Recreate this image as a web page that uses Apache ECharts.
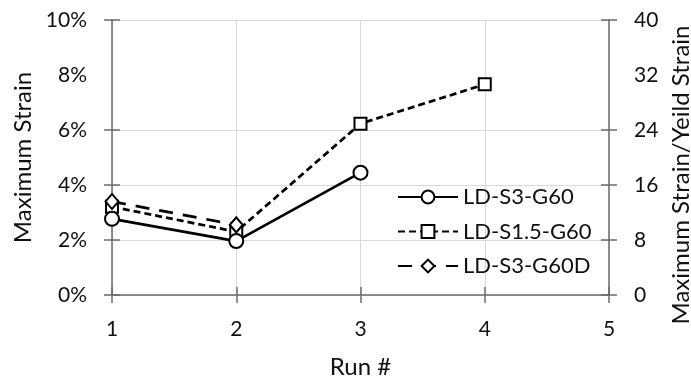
<!DOCTYPE html>
<html>
<head>
<meta charset="utf-8">
<script src="https://cdn.jsdelivr.net/npm/echarts@6/dist/echarts.min.js"></script>
<style>html,body{margin:0;padding:0;background:#fff;}#c{width:691px;height:379px;}</style>
</head>
<body>
<div id="c"></div>
<script>
var runs = [1, 2, 3, 4];
var seriesNames = ['LD-S3-G60', 'LD-S1.5-G60', 'LD-S3-G60D'];
var strainS3G60 = [0.0277, 0.0196, 0.0445];
var strainS15G60 = [0.0321, 0.0230, 0.0623, 0.0766];
var strainS3G60D = [0.0340, 0.0255];
var leftTicks = [0, 0.02, 0.04, 0.06, 0.10];
var rightTicks = [0, 8, 16, 24, 40];

function pairs(vals) { return vals.map(function (v, i) { return [runs[i], v]; }); }

var FONT = 'Lato';
var axisCol = '#6b6b6b';
var txt = '#111';

var chart = echarts.init(document.getElementById('c'), null, {renderer: 'canvas'});
chart.setOption({
  animation: false,
  textStyle: {fontFamily: FONT},
  grid: {left: 112, right: 82, top: 20, bottom: 84, containLabel: false, outerBoundsMode: 'none'},
  legend: {
    orient: 'vertical', left: 392, top: 181, itemWidth: 60, itemHeight: 16, itemGap: 12.5,
    textStyle: {fontSize: 22, color: txt, fontFamily: FONT},
    data: seriesNames
  },
  xAxis: [{
    type: 'value', min: 1, max: 5, interval: 1, position: 'bottom',
    name: 'Run #', nameLocation: 'middle', nameGap: 60,
    nameTextStyle: {fontSize: 24, color: txt},
    axisLine: {show: true, lineStyle: {color: axisCol, width: 1.5}},
    axisTick: {show: true, length: 8, lineStyle: {color: axisCol, width: 1.5}},
    axisLabel: {fontSize: 21, color: txt, margin: 24},
    splitLine: {show: true, lineStyle: {color: '#d9d9d9', width: 1}}
  }, {
    type: 'value', min: 1, max: 5, interval: 1, position: 'bottom',
    axisLine: {show: false}, axisLabel: {show: false}, splitLine: {show: false},
    axisTick: {show: true, inside: true, length: 8, lineStyle: {color: axisCol, width: 1.5}}
  }],
  yAxis: [{
    type: 'value', min: 0, max: 0.1, interval: 0.02, position: 'left',
    name: 'Maximum Strain', nameLocation: 'middle', nameGap: 76,
    nameTextStyle: {fontSize: 24, color: txt},
    axisLine: {show: true, lineStyle: {color: axisCol, width: 1.5}},
    axisTick: {show: true, length: 8, customValues: leftTicks, lineStyle: {color: axisCol, width: 1.5}},
    axisLabel: {fontSize: 21, color: txt, margin: 25, formatter: function (v) { return Math.round(v * 100) + '%'; }},
    splitLine: {show: true, lineStyle: {color: '#d9d9d9', width: 1}}
  }, {
    type: 'value', min: 0, max: 0.1, interval: 0.02, position: 'left',
    axisLine: {show: false}, axisLabel: {show: false}, splitLine: {show: false},
    axisTick: {show: true, inside: true, length: 8, customValues: leftTicks, lineStyle: {color: axisCol, width: 1.5}}
  }, {
    type: 'value', min: 0, max: 40, interval: 8, position: 'right',
    name: 'Maximum Strain/Yeild Strain', nameLocation: 'middle', nameGap: 58,
    nameTextStyle: {fontSize: 24, color: txt, padding: [0, 35, 0, 0]},
    axisLine: {show: true, lineStyle: {color: axisCol, width: 1.5}},
    axisTick: {show: true, length: 8, customValues: rightTicks, lineStyle: {color: axisCol, width: 1.5}},
    axisLabel: {fontSize: 21, color: txt, margin: 25},
    splitLine: {show: false}
  }, {
    type: 'value', min: 0, max: 40, interval: 8, position: 'right',
    axisLine: {show: false}, axisLabel: {show: false}, splitLine: {show: false},
    axisTick: {show: true, inside: true, length: 8, customValues: rightTicks, lineStyle: {color: axisCol, width: 1.5}}
  }],
  series: [{
    name: seriesNames[0], type: 'line', data: pairs(strainS3G60), z: 4,
    symbol: 'circle', symbolSize: 14,
    lineStyle: {color: '#000', width: 2.75, type: 'solid'},
    itemStyle: {color: '#fff', borderColor: '#000', borderWidth: 2}
  }, {
    name: seriesNames[1], type: 'line', data: pairs(strainS15G60), z: 3,
    symbol: 'rect', symbolSize: 12,
    lineStyle: {color: '#000', width: 2.75, type: [7, 4]},
    itemStyle: {color: '#fff', borderColor: '#000', borderWidth: 2}
  }, {
    name: seriesNames[2], type: 'line', data: pairs(strainS3G60D), z: 3,
    symbol: 'diamond', symbolSize: [13, 15],
    lineStyle: {color: '#000', width: 2.75, type: [14, 10]},
    itemStyle: {color: '#fff', borderColor: '#000', borderWidth: 2}
  }]
});
</script>
</body>
</html>
